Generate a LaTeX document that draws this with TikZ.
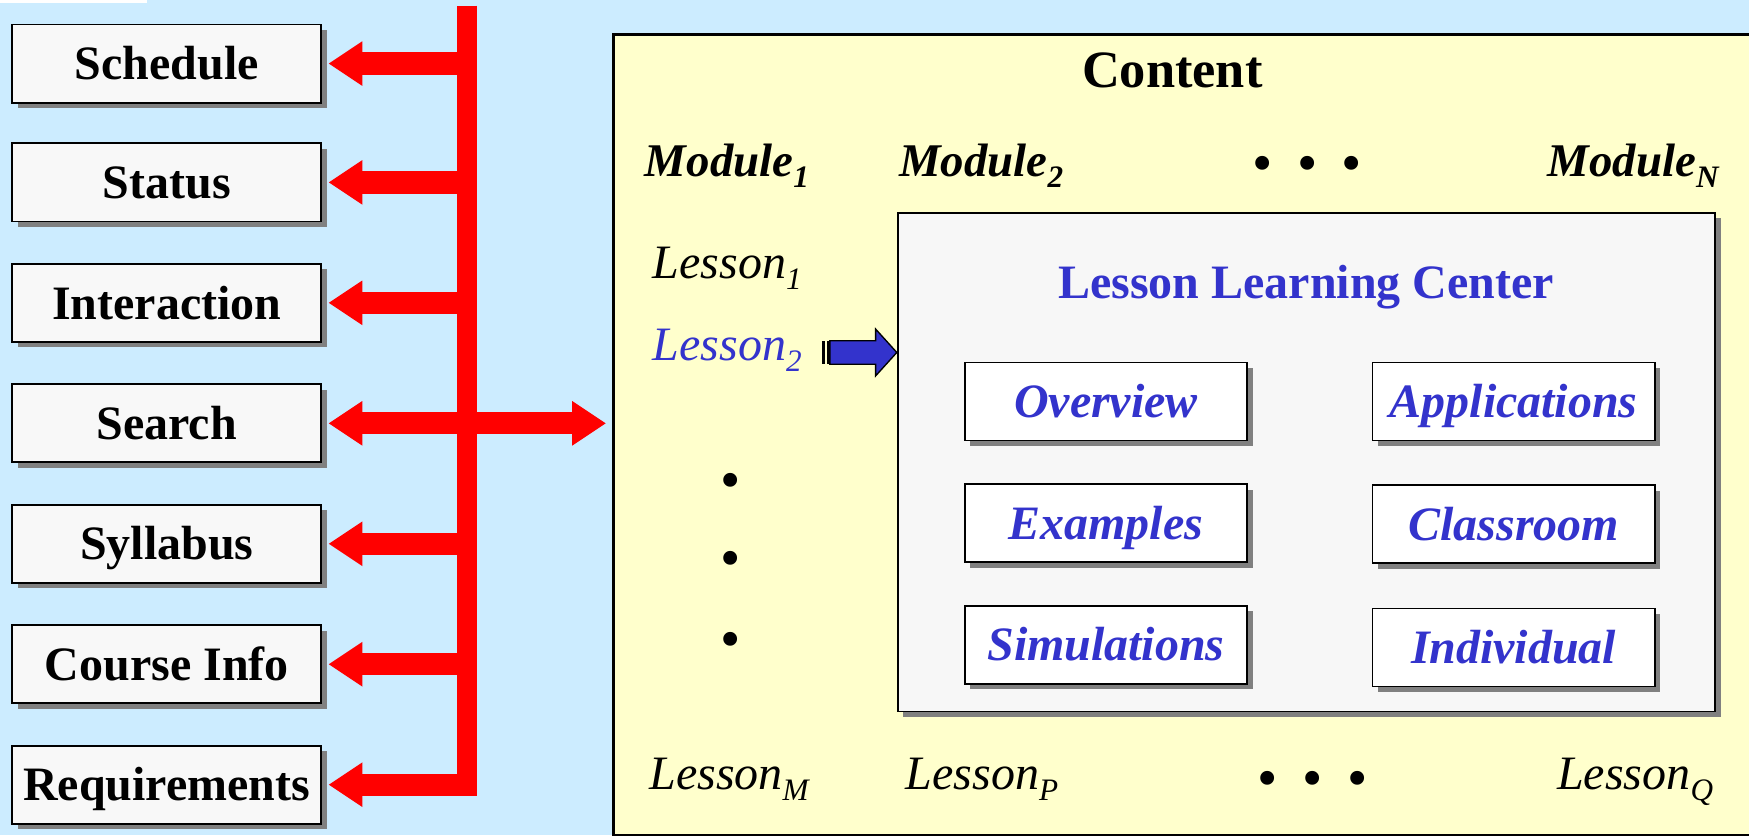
\documentclass[tikz,border=0pt]{standalone}
\usepackage{fontspec}
\setmainfont{Liberation Serif}
\usetikzlibrary{arrows.meta,shadows,calc}
\definecolor{bgblue}{RGB}{204,236,255}
\definecolor{cyellow}{RGB}{255,255,204}
\definecolor{panelgray}{RGB}{247,247,247}
\definecolor{boxgray}{RGB}{248,248,248}
\definecolor{lblue}{RGB}{51,51,204}
\definecolor{shgray}{RGB}{128,128,128}
\definecolor{redc}{RGB}{255,0,0}
\newcommand\sbs[1]{\raisebox{-10pt}{\fontsize{28}{28}\selectfont #1}}
\begin{document}
\begin{tikzpicture}[x=1pt,y=-1pt,
  shadowed/.style={drop shadow={shadow xshift=5pt,shadow yshift=-5pt,fill=shgray,opacity=1}},
  menubox/.style={draw=black,line width=1.6pt,fill=boxgray,shadowed,minimum width=277pt,minimum height=70pt,inner sep=0pt,text height=29pt,text depth=0pt,font=\fontsize{43}{50}\selectfont\bfseries},
  partbox/.style={draw=black,line width=1.6pt,fill=white,shadowed,minimum width=253pt,minimum height=70pt,inner sep=0pt,text height=29pt,text depth=0pt,text=lblue,font=\fontsize{43}{50}\selectfont\bfseries\itshape},
  modlabel/.style={inner sep=0pt,font=\fontsize{42}{50}\selectfont\bfseries\itshape},
  leslabel/.style={inner sep=0pt,font=\fontsize{43}{50}\selectfont\itshape},
  dotlabel/.style={inner sep=0pt,font=\fontsize{52}{52}\selectfont},
  redarr/.style={draw=redc,line width=20pt,-{Triangle[length=30pt,width=40pt,line width=0pt]}},
  redarrtwo/.style={draw=redc,line width=20pt,{Triangle[length=30pt,width=40pt,line width=0pt]}-{Triangle[length=30pt,width=40pt,line width=0pt]}},
  trunkline/.style={draw=redc,line width=18pt}
]
\useasboundingbox (0,0) rectangle (1568,749);
\clip (0,0) rectangle (1568,749);
\fill[bgblue] (0,0) rectangle (1568,749);
\fill[white] (0,0) rectangle (132,3);

% content box
\node[draw=black,line width=2pt,fill=cyellow,minimum width=1060pt,minimum height=718pt,anchor=north west,inner sep=0pt] (cbox) at (549,30) {};
\node[inner sep=0pt,anchor=base,font=\fontsize{47}{50}\selectfont\bfseries] (content) at (1051,78) {Content};

\node[modlabel,anchor=base west] (m1) at (578,158.5) {Module\sbs{1}};
\node[modlabel,anchor=base west] (m2) at (806,158.5) {Module\sbs{2}};
\node[dotlabel] (mdots) at (1172,152) {•\hspace{22pt}•\hspace{22pt}•};
\node[modlabel,anchor=base east] (mn) at (1541,158.5) {Module\sbs{N}};

\node[leslabel,anchor=base west] (l1) at (585,249.5) {Lesson\sbs{1}};
\node[leslabel,anchor=base west,text=lblue] (l2) at (585,322.8) {Lesson\sbs{2}};
\node[dotlabel] (vd1) at (655,436) {•};
\node[dotlabel] (vd2) at (655,506) {•};
\node[dotlabel] (vd3) at (655,579) {•};
\node[leslabel,anchor=base west] (lm) at (582,707.4) {Lesson\sbs{M}};
\node[leslabel,anchor=base west] (lp) at (812,707.4) {Lesson\sbs{P}};
\node[dotlabel] (ldots) at (1177,703) {•\hspace{22pt}•\hspace{22pt}•};
\node[leslabel,anchor=base east] (lq) at (1536,707.4) {Lesson\sbs{Q}};

% lesson learning center panel
\node[draw=black,line width=1.6pt,fill=panelgray,shadowed,minimum width=733pt,minimum height=447pt,anchor=north west,inner sep=0pt] (panel) at (804,190) {};
\node[inner sep=0pt,anchor=base,text=lblue,font=\fontsize{43}{50}\selectfont\bfseries] (llc) at (1171,268) {Lesson Learning Center};

\node[partbox] (overview) at (991.5,360) {Overview};
\node[partbox] (examples) at (991.5,469) {Examples};
\node[partbox] (simul) at (991.5,578) {Simulations};
\node[partbox] (applic) at (1357,360) {Applications};
\node[partbox] (classroom) at (1357,470) {Classroom};
\node[partbox] (indiv) at (1357,580.5) {Individual};

% blue arrow from Lesson2 to panel
\coordinate (bat) at (737,316);
\fill[black] (bat) ++(0,-10.5) rectangle ++(2.5,21);
\fill[black] (bat) ++(4.5,-10.5) rectangle ++(2,21);
\draw[black,line width=1.2pt,fill=lblue,line join=miter]
  ($(bat)+(7,-10.5)$) -- ($(bat)+(48,-10.5)$) -- ($(bat)+(48,-21)$) -- (panel.west |- bat)
  -- ($(bat)+(48,21)$) -- ($(bat)+(48,10.5)$) -- ($(bat)+(7,10.5)$) -- cycle;

% menu boxes
\node[menubox] (sched) at (149.5,57) {Schedule};
\node[menubox] (status) at (149.5,163.5) {Status};
\node[menubox] (inter) at (149.5,271.5) {Interaction};
\node[menubox] (search) at (149.5,379.5) {Search};
\node[menubox] (syll) at (149.5,487.5) {Syllabus};
\node[menubox] (cinfo) at (149.5,595.5) {Course Info};
\node[menubox] (req) at (149.5,703.5) {Requirements};

% red trunk and arrows
\coordinate (ttop) at (419,5);
\coordinate (tbot) at (419,714);
\draw[trunkline] (ttop) -- (tbot);
\foreach \b in {sched,status,inter,syll,cinfo,req}{
  \draw[redarr] (ttop |- \b.east) -- ($(\b.east)+(6,0)$);
}
\draw[redarrtwo] ($(search.east)+(6,0)$) -- ($(cbox.west |- search.east)+(-6,0)$);
\end{tikzpicture}
\end{document}
